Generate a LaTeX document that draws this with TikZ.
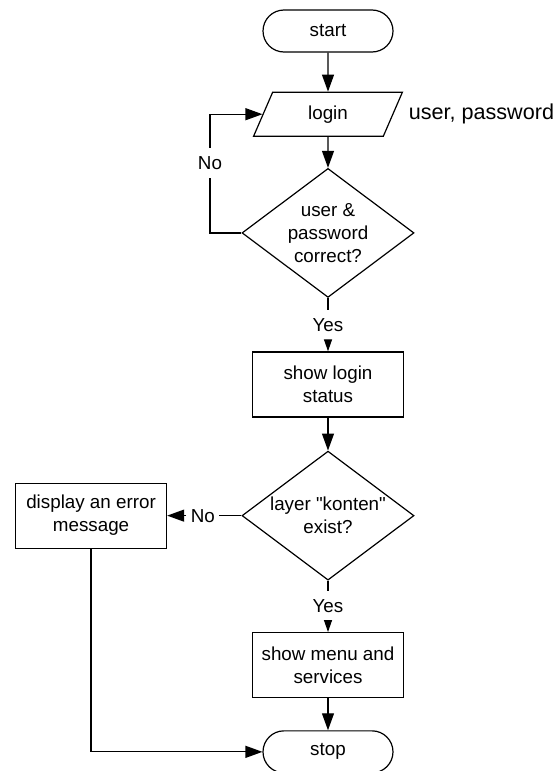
\documentclass[tikz,border=0pt]{standalone}
\usepackage{fontspec}
\setmainfont{Liberation Sans}
\usetikzlibrary{positioning,shapes.geometric,arrows.meta}

\begin{document}
\begin{tikzpicture}[x=0.5pt, y=-0.5pt, line width=0.6pt,
    >={Triangle[length=8.5pt, width=6pt]},
    every node/.style={font=\fontsize{9.4}{11.5}\selectfont},
    term/.style={draw, rounded corners=10.5pt, minimum width=65pt, minimum height=21pt},
    io/.style={draw, trapezium, trapezium left angle=73.5, trapezium right angle=106.5,
        trapezium stretches=true, minimum width=74.5pt, minimum height=22pt},
    proc/.style={draw, align=center, minimum width=75.5pt, minimum height=32.5pt},
    decide/.style={draw, diamond, align=center, aspect=1.33, inner sep=0pt,
        minimum width=86pt, minimum height=64.5pt},
    lbl/.style={inner xsep=2pt, inner ysep=4pt},
    small/.style={-{Triangle[length=6pt, width=4pt]}}]
            \useasboundingbox (0,0) rectangle (558,771);
            \node [term] (start) at (328,31) {start};
            \node [io, below = 19.5pt of start] (login) {login};
            \node [right = 4pt of login, font=\fontsize{10.8}{13}\selectfont] (input) {user, password};
            \node [decide, below = 15.5pt of login] (check) {user \&\\password\\correct?};
            \node [lbl, below = 6pt of check] (yes1) {Yes};
            \node [proc, below = 5.5pt of yes1] (status) {show login\\status};
            \node [decide, below = 16.5pt of status] (layer) {layer \textquotedbl konten\textquotedbl\\exist?};
            \node [lbl, below = 5pt of layer] (yes2) {Yes};
            \node [proc, below = 5.5pt of yes2] (menu) {show menu and\\services};
            \node [term, below = 16pt of menu] (stop) {stop};
            \node [lbl, left = 11pt of layer] (no2) {No};
            \node [proc, left = 9.5pt of no2] (error) {display an error\\message};
            \node [lbl] (no1) at (210,163) {No};
            \draw [->] (start) -- (login);
            \draw [->] (login) -- (check);
            \draw (check) -- (yes1);
            \draw [small] (yes1) -- (status);
            \draw [->] (status) -- (layer);
            \draw (layer) -- (yes2);
            \draw [small] (yes2) -- (menu);
            \draw [->] (menu) -- (stop);
            \draw (layer) -- (no2);
            \draw [->] (no2) -- (error);
            \draw [->] (error) |- (stop);
            \draw (check.west) -| (no1);
            \draw [->] (no1) |- (login.west);
        \end{tikzpicture}
\end{document}
